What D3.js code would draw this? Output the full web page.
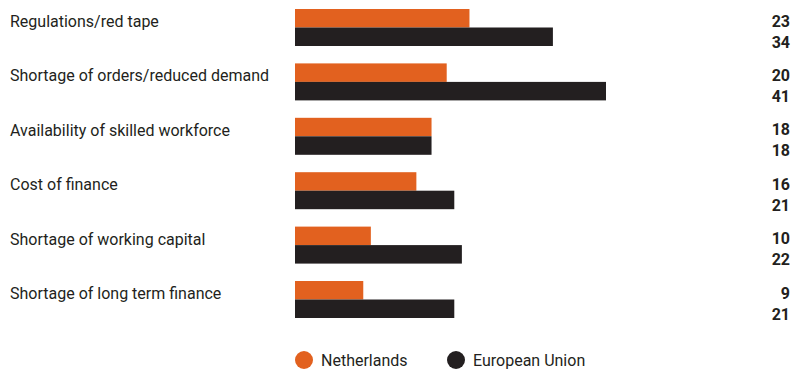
<!DOCTYPE html>
<html><head><meta charset="utf-8">
<script src="https://cdn.jsdelivr.net/npm/d3@7"></script>
<style>
html,body{margin:0;padding:0;background:#fff;}
svg{display:block;}
text{font-family:Roboto,"Liberation Sans",sans-serif;fill:#231F20;}
</style></head><body>
<svg id="chart" width="807" height="372"></svg>
<script>
const categories = ["Regulations/red tape","Shortage of orders/reduced demand","Availability of skilled workforce","Cost of finance","Shortage of working capital","Shortage of long term finance"];
const seriesNames = ["Netherlands","European Union"];
const netherlands = [23,20,18,16,10,9];
const europeanUnion = [34,41,18,21,22,21];
const colors = ["#E2611F","#231F20"];

const svg = d3.select("#chart");
const data = categories.map((c,i)=>({cat:c, values:[netherlands[i], europeanUnion[i]]}));

const x = d3.scaleLinear().domain([0,41]).range([295,606]);
const y0 = d3.scaleBand().domain(categories).range([9,318]).paddingInner(0.32).paddingOuter(0);
const y1 = d3.scaleBand().domain(seriesNames).range([0,y0.bandwidth()]);

const g = svg.selectAll("g.grp").data(data).join("g").attr("class","grp")
  .attr("transform",d=>`translate(0,${y0(d.cat)})`);

g.selectAll("rect").data(d=>d.values.map((v,j)=>({v,s:seriesNames[j],j})))
  .join("rect")
  .attr("x",x(0)).attr("y",d=>y1(d.s))
  .attr("width",d=>x(d.v)-x(0)).attr("height",y1.bandwidth())
  .attr("fill",d=>colors[d.j]);

g.append("text").attr("x",10).attr("y",18).attr("font-size","16px").text(d=>d.cat);

g.selectAll("text.val").data(d=>d.values.map((v,j)=>({v,j})))
  .join("text").attr("class","val")
  .attr("x",790).attr("y",d=>d.j===0?17.5:38.5)
  .attr("text-anchor","end").attr("font-size","16px").attr("font-weight","bold")
  .text(d=>d.v);

const leg = svg.append("g");
const legX = [304,456];
seriesNames.forEach((s,i)=>{
  leg.append("circle").attr("cx",legX[i]).attr("cy",360).attr("r",9).attr("fill",colors[i]);
  leg.append("text").attr("x",legX[i]+17).attr("y",366).attr("font-size","16px").text(s);
});
</script>
</body></html>
